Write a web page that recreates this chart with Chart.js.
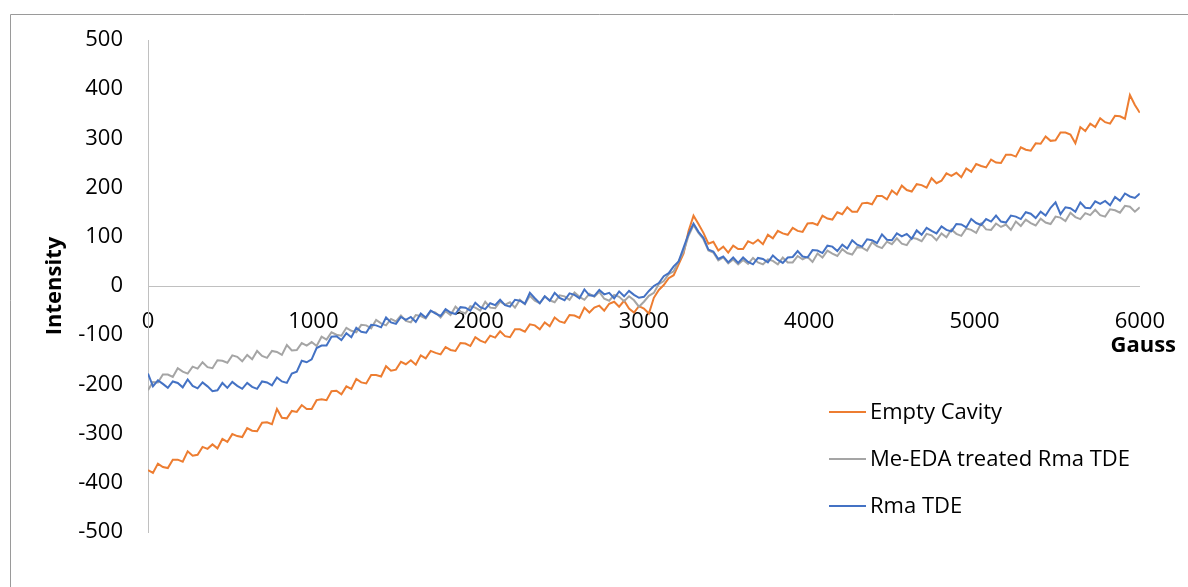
<!DOCTYPE html>
<html>
<head>
<meta charset="utf-8">
<script src="https://cdn.jsdelivr.net/npm/chart.js@4.4.1/dist/chart.umd.min.js"></script>
<style>
  html, body { margin: 0; padding: 0; background: #fff; }
  #wrap { width: 1188px; height: 587px; }
</style>
</head>
<body>
<div id="wrap"><canvas id="myChart" width="1188" height="587"></canvas></div>
<script>
// field sweep: one reading every 30 G, from 0 to 6000 G
const gaussStep = 30;

const seriesNames = ['Empty Cavity', 'Me-EDA treated Rma TDE', 'Rma TDE'];
const seriesColors = ['#ED7D31', '#A5A5A5', '#4472C4'];

// Empty Cavity
const emptyCavity = [
  -374, -380, -361, -368, -370, -353, -353, -357, -336, -345,
  -343, -327, -331, -322, -330, -311, -317, -301, -305, -307,
  -289, -294, -295, -278, -277, -281, -250, -268, -269, -254,
  -256, -242, -250, -250, -232, -230, -232, -214, -213, -220,
  -204, -209, -189, -196, -198, -181, -181, -184, -163, -172,
  -170, -154, -159, -151, -160, -141, -147, -132, -136, -139,
  -124, -130, -132, -116, -117, -122, -104, -111, -115, -101,
  -105, -92, -102, -104, -88, -88, -93, -78, -80, -88,
  -74, -82, -64, -72, -75, -59, -60, -65, -44, -54,
  -44, -40, -50, -36, -32, -42, -30, -46, -54, -41,
  -46, -56, -24, -8, 2, 16, 22, 44, 66, 112,
  143, 126, 108, 86, 90, 72, 80, 68, 82, 75,
  75, 91, 86, 94, 85, 104, 97, 112, 107, 104,
  118, 112, 110, 127, 128, 124, 143, 137, 135, 150,
  146, 160, 151, 151, 168, 169, 166, 183, 183, 176,
  194, 186, 204, 195, 192, 207, 205, 200, 219, 209,
  214, 229, 224, 230, 221, 239, 232, 248, 244, 241,
  257, 251, 250, 267, 267, 263, 282, 277, 275, 290,
  289, 304, 295, 296, 312, 312, 308, 290, 323, 315,
  330, 323, 341, 333, 330, 346, 345, 340, 388, 368,
  352
];

// Me-EDA treated Rma TDE
const meEdaTreated = [
  -212, -195, -196, -180, -180, -185, -167, -174, -178, -164,
  -168, -155, -165, -167, -151, -152, -156, -141, -144, -153,
  -140, -149, -132, -142, -146, -132, -134, -140, -120, -131,
  -130, -116, -121, -114, -122, -103, -109, -94, -99, -101,
  -85, -91, -94, -79, -80, -86, -69, -76, -80, -67,
  -72, -60, -71, -74, -59, -61, -66, -51, -54, -64,
  -51, -59, -42, -52, -56, -41, -44, -50, -32, -44,
  -45, -32, -38, -33, -44, -28, -37, -20, -30, -35,
  -21, -29, -33, -19, -21, -28, -13, -22, -28, -16,
  -22, -12, -26, -30, -18, -22, -31, -21, -29, -42,
  -32, -20, -14, 4, 10, 24, 30, 50, 70, 102,
  124, 108, 95, 72, 68, 52, 58, 46, 54, 44,
  53, 45, 57, 48, 44, 54, 51, 44, 58, 48,
  48, 61, 54, 59, 49, 66, 58, 72, 66, 61,
  75, 67, 64, 79, 78, 72, 89, 81, 77, 90,
  85, 97, 86, 83, 98, 96, 91, 106, 103, 93,
  107, 99, 115, 106, 102, 117, 114, 108, 127, 115,
  114, 127, 120, 125, 114, 131, 122, 135, 128, 123,
  137, 129, 126, 141, 139, 132, 149, 140, 136, 148,
  144, 155, 144, 141, 156, 154, 149, 163, 161, 151,
  160
];

// Rma TDE
const rmaTde = [
  -178, -204, -192, -199, -207, -194, -197, -206, -190, -203,
  -208, -196, -204, -214, -212, -197, -207, -195, -203, -209,
  -197, -205, -209, -194, -196, -202, -186, -194, -197, -178,
  -174, -152, -155, -149, -126, -121, -121, -103, -102, -110,
  -96, -104, -85, -93, -95, -79, -80, -84, -64, -74,
  -77, -63, -69, -63, -73, -56, -64, -50, -56, -61,
  -47, -54, -57, -43, -44, -50, -34, -43, -47, -35,
  -39, -28, -39, -42, -28, -30, -36, -14, -25, -35,
  -21, -30, -14, -24, -29, -15, -18, -25, -7, -19,
  -20, -8, -17, -14, -25, -11, -21, -10, -18, -24,
  -22, -10, 0, 6, 20, 26, 40, 50, 78, 106,
  127, 110, 98, 74, 70, 55, 60, 48, 58, 47,
  58, 49, 44, 57, 55, 48, 62, 53, 47, 58,
  59, 71, 60, 58, 73, 72, 67, 82, 80, 71,
  84, 76, 93, 84, 80, 95, 93, 87, 105, 94,
  93, 107, 101, 106, 96, 113, 104, 118, 112, 107,
  121, 114, 111, 126, 125, 119, 136, 128, 124, 136,
  131, 143, 131, 129, 143, 141, 136, 150, 147, 138,
  151, 143, 159, 170, 146, 160, 158, 151, 170, 159,
  158, 172, 167, 173, 164, 181, 173, 188, 182, 179,
  188
];

const gauss = emptyCavity.map((_, i) => i * gaussStep);
const seriesValues = [emptyCavity, meEdaTreated, rmaTde];

const FONT = '"Open Sans", sans-serif';
const FONT_SIZE = 22;
Chart.defaults.font.family = FONT;
Chart.defaults.color = '#000';

// Çerçeve, "Gauss" başlığı ve sağ alttaki lejant
const extrasPlugin = {
  id: 'extras',
  beforeDraw(chart) {
    const c = chart.ctx;
    c.save();
    c.fillStyle = '#fff';
    c.fillRect(0, 0, chart.width, chart.height);
    c.strokeStyle = '#9a9a9a';
    c.lineWidth = 1;
    c.beginPath();
    c.moveTo(10.5, chart.height);
    c.lineTo(10.5, 14.5);
    c.lineTo(chart.width, 14.5);
    c.stroke();
    c.restore();
  },
  afterDraw(chart) {
    const c = chart.ctx;
    c.save();
    c.fillStyle = '#000';
    c.textBaseline = 'middle';
    c.font = 'bold ' + FONT_SIZE + 'px ' + FONT;
    c.textAlign = 'right';
    c.fillText('Gauss', 1176, 346);

    c.font = FONT_SIZE + 'px ' + FONT;
    c.textAlign = 'left';
    chart.data.datasets.forEach((ds, i) => {
      const y = 412 + i * 47;
      c.strokeStyle = ds.borderColor;
      c.lineWidth = 2;
      c.beginPath();
      c.moveTo(829, y);
      c.lineTo(866, y);
      c.stroke();
      c.fillText(ds.label, 870, y + 1);
    });
    c.restore();
  }
};

const ctx = document.getElementById('myChart').getContext('2d');
const myChart = new Chart(ctx, {
  type: 'line',
  data: {
    datasets: seriesNames.map((name, s) => ({
      label: name,
      data: gauss.map((g, i) => ({ x: g, y: seriesValues[s][i] })),
      borderColor: seriesColors[s],
      backgroundColor: seriesColors[s],
      borderWidth: 2,
      pointRadius: 0,
      tension: 0,
      order: 3 - s // blue on top, like Excel
    }))
  },
  options: {
    responsive: false,
    animation: false,
    layout: { padding: { left: 0, top: 40, right: 41, bottom: 55 } },
    plugins: {
      legend: { display: false },
      tooltip: { enabled: false }
    },
    scales: {
      x: {
        type: 'linear',
        position: { y: 0 },
        min: 0,
        max: 6000,
        ticks: {
          stepSize: 1000, padding: 23, font: { size: FONT_SIZE }, color: '#000', maxRotation: 0,
          callback: (v) => String(v)
        },
        grid: { drawOnChartArea: false, drawTicks: false },
        border: { color: '#c0c0c0', width: 1 }
      },
      y: {
        type: 'linear',
        position: 'left',
        min: -500,
        max: 500,
        ticks: {
          stepSize: 100, padding: 25, font: { size: FONT_SIZE }, color: '#000',
          callback: (v) => String(v)
        },
        grid: { drawOnChartArea: false, drawTicks: false },
        border: { color: '#c0c0c0', width: 1 },
        title: {
          display: true,
          text: 'Intensity',
          font: { size: FONT_SIZE, weight: 'bold' },
          color: '#000',
          padding: { top: 42, bottom: 0 }
        },
        afterFit: (scale) => { scale.width = 148; }
      }
    }
  },
  plugins: [extrasPlugin]
});
</script>
</body>
</html>
